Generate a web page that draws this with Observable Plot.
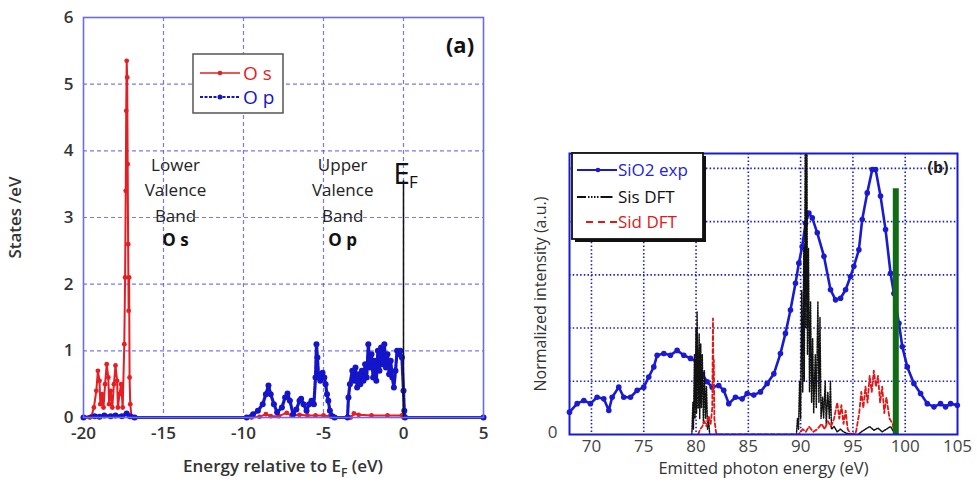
<!DOCTYPE html>
<html><head><meta charset="utf-8">
<script src="https://cdn.jsdelivr.net/npm/d3@7"></script>
<script src="https://cdn.jsdelivr.net/npm/@observablehq/plot@0.6"></script>
<style>
body{margin:0;background:#fff;}
#wrap{position:relative;width:977px;height:483px;overflow:hidden;font-family:"Open Sans",sans-serif;background:#fff;}
#wrap .pa{position:absolute;left:0;top:0;}
#wrap .pb{position:absolute;left:490px;top:0;}
#wrap .ov{position:absolute;left:0;top:0;pointer-events:none;}
</style></head><body><div id="wrap"></div>
<script>
// ---------- Panel (a): O s / O p partial DOS ----------
const osEnergy = [-20,-19.6,-19.5,-19.35,-19.2,-19.1,-19.0,-18.95,-18.85,-18.75,-18.65,-18.55,-18.45,-18.4,-18.3,-18.2,-18.1,-18.0,-17.9,-17.85,-17.75,-17.65,-17.55,-17.45,-17.4,-17.36,-17.33,-17.3,-17.27,-17.24,-17.21,-17.18,-17.15,-17.12,-17.08,-17.0,-16.9,-9.5,-9.0,-8.6,-8.3,-7.8,-7.3,-7.0,-6.5,-6.0,-5.5,-5.0,-4.6,-4.3,-3.3,-3.1,-2.8,-2.0,-1.0,-0.1,0,5];
const osStates = [0,0,0.02,0.15,0.4,0.7,0.55,0.2,0.35,0.15,0.5,0.8,0.6,0.2,0.4,0.15,0.5,0.78,0.55,0.15,0.35,0.5,0.15,1.1,2.1,3.4,4.6,5.35,5.1,3.8,2.6,1.6,2.1,0.6,0.2,0.02,0,0,0.01,0.05,0.02,0.02,0.07,0.03,0.04,0.03,0.03,0.03,0.02,0,0,0.06,0.04,0.03,0.03,0.03,0,0];
const opEnergy = [-20,-19.3,-19.0,-18.7,-18.3,-18.0,-17.6,-17.3,-17.1,-16.8,-9.8,-9.4,-9.1,-8.8,-8.6,-8.44,-8.3,-8.1,-7.9,-7.6,-7.4,-7.25,-7.1,-6.9,-6.7,-6.5,-6.4,-6.25,-6.06,-5.9,-5.75,-5.6,-5.5,-5.44,-5.38,-5.3,-5.2,-5.06,-4.95,-4.87,-4.78,-4.7,-4.6,-4.45,-4.3,-3.5,-3.44,-3.35,-3.2,-3.1,-3.0,-2.9,-2.8,-2.7,-2.6,-2.5,-2.4,-2.3,-2.2,-2.1,-2.0,-1.9,-1.8,-1.7,-1.6,-1.5,-1.4,-1.3,-1.2,-1.1,-1.0,-0.9,-0.8,-0.7,-0.6,-0.5,-0.4,-0.3,-0.2,-0.1,0.0,0.05,0.1,5];
const opStates = [0,0.02,0.01,0.03,0.02,0.03,0.02,0.06,0.02,0,0,0.05,0.1,0.2,0.35,0.48,0.35,0.2,0.08,0.15,0.3,0.36,0.25,0.05,0.12,0.25,0.28,0.2,0.1,0.2,0.25,0.2,0.6,1.1,0.9,0.6,0.55,0.67,0.6,0.5,0.35,0.25,0.1,0.02,0,0,0.3,0.5,0.7,0.55,0.75,0.45,0.65,0.5,0.7,0.55,0.8,0.6,1.1,0.75,0.95,0.6,0.85,0.55,1.0,0.7,1.05,0.8,1.1,0.75,0.95,0.65,0.85,0.6,0.45,0.7,1.0,0.95,1.0,0.9,0.4,0.1,0,0];
const aTicksX = [-20,-15,-10,-5,0,5];
const aTicksY = [0,1,2,3,4,5,6];
const aGridX = [-15,-10,-5,0];
const aGridY = [1,2,3,4,5];
const fermiEnergy = [0];
const fermiTop = 3.55;
const bandNotes = [
  {x: -14.25, y: 3.98, text: "Lower\nValence\nBand", bold: "O s"},
  {x: -3.8, y: 3.98, text: "Upper\nValence\nBand", bold: "O p"}
];

// ---------- Panel (b): SiO2 emission vs DFT ----------
const expEnergy = [67.9,68.63,69.27,69.9,70.54,71.18,71.66,71.98,72.61,73.09,73.73,74.37,75.0,75.48,75.96,76.28,76.92,77.55,78.19,78.83,79.47,80.1,80.58,81.06,81.54,82.17,82.65,83.13,83.77,84.41,84.89,85.52,86.16,86.8,87.44,88.07,88.55,89.03,89.51,89.83,90.15,90.47,90.79,91.11,91.59,92.23,92.86,93.34,93.82,94.3,94.77,95.09,95.57,95.89,96.37,96.85,97.17,97.64,98.12,98.6,98.92,99.4,99.72,100.2,100.83,101.47,102.11,102.75,103.38,103.86,104.34,104.98];
const expIntensity = [0.42,0.58,0.64,0.58,0.70,0.67,0.45,0.70,0.89,0.70,0.70,0.83,0.89,1.08,1.27,1.49,1.52,1.49,1.58,1.49,1.43,1.36,1.14,0.99,0.89,0.92,0.83,0.58,0.70,0.67,0.77,0.74,0.80,0.96,1.14,1.52,1.90,2.34,2.84,3.22,3.53,3.97,4.16,4.07,3.79,3.35,2.72,2.53,2.56,2.72,2.97,3.16,3.47,4.04,4.54,4.98,4.98,4.48,3.85,3.03,2.65,2.09,1.65,1.27,0.96,0.77,0.58,0.52,0.58,0.52,0.58,0.55];
const sisEnergy = [79.6,79.7,79.75,79.85,79.9,80.0,80.05,80.1,80.2,80.3,80.35,80.45,80.5,80.6,80.7,80.8,80.9,81.0,81.1,81.2,81.3,89.6,89.7,89.8,89.9,90.0,90.1,90.2,90.3,90.35,90.45,90.5,90.6,90.65,90.75,90.85,90.95,91.05,91.15,91.25,91.4,91.5,91.65,91.75,91.85,91.95,92.1,92.2,92.35,92.45,92.6,92.75,92.85,92.95,93.2,93.5,93.8,94.1,94.4,95.5,95.8,96.2,96.6,97.0,97.4,97.8,98.2,98.6,98.9,99.0];
const sisIntensity = [0,0.6,0.1,1.5,0.3,2.0,0.4,2.3,0.5,1.9,0.3,1.7,0.5,1.5,0.2,1.2,0.3,0.9,0.1,0.3,0,0,0.3,0.1,1.0,0.3,2.7,0.8,3.5,1.0,6,2.0,6,1.5,3.5,0.8,2.5,0.6,1.8,0.4,1.5,0.5,2.5,0.6,2.2,0.3,0.7,0.3,1.0,0.2,0.8,0.3,1.0,0.1,0.15,0.05,0.1,0.05,0.02,0,0.05,0.1,0.15,0.08,0.12,0.05,0.1,0.15,0.05,0];
const sidEnergy = [80.2,80.4,80.6,80.8,81.0,81.2,81.4,81.55,81.62,81.66,81.7,81.75,81.9,82.0,89.8,90.2,90.5,90.8,91.2,91.6,92.0,92.3,92.6,92.9,93.2,93.5,93.7,93.9,94.1,94.3,94.5,94.8,95.3,95.6,95.8,96.0,96.2,96.4,96.6,96.8,97.0,97.2,97.4,97.6,97.8,98.0,98.2,98.5,98.8,99.0];
const sidIntensity = [0,0.1,0.15,0.25,0.15,0.35,0.2,0.5,2.18,1.0,1.4,0.3,0.05,0,0,0.1,0.05,0.15,0.05,0.1,0.2,0.1,0.25,0.15,0.3,0.6,0.3,0.55,0.2,0.45,0.1,0,0.05,0.4,0.8,0.5,0.9,0.6,1.1,0.8,1.2,0.9,1.1,0.6,0.9,0.4,0.7,0.3,0.2,0];
const edgeEnergy = [99.1];
const edgeTop = [4.62];
const bTicksX = [70,75,80,85,90,95,100,105];
const bTicksY = [0];
const bGridX = [70,75,80,85,90,95,100];
const bGridY = [1,2,3,4,5];

const zip = (xs, ys) => xs.map((x, i) => ({x, y: ys[i]}));
const osData = zip(osEnergy, osStates);
const opData = zip(opEnergy, opStates);
const expData = zip(expEnergy, expIntensity);
const sisData = zip(sisEnergy, sisIntensity);
const sidData = zip(sidEnergy, sidIntensity);

const RED = "#e41e22", BLUE = "#1414c8", TXT = "#333";
const FONT = "Open Sans, sans-serif";
const plain = d => String(d);

const plotA = Plot.plot({
  width: 490, height: 483,
  marginLeft: 83, marginRight: 7, marginTop: 17, marginBottom: 66,
  x: {domain: [-20, 5]},
  y: {domain: [0, 6]},
  style: {fontFamily: FONT, background: "transparent", overflow: "visible"},
  marks: [
    Plot.gridX(aGridX, {stroke: "#4a4aff", strokeOpacity: 0.75, strokeDasharray: "4,3", strokeWidth: 1.2}),
    Plot.gridY(aGridY, {stroke: "#4a4aff", strokeOpacity: 0.75, strokeDasharray: "4,3", strokeWidth: 1.2}),
    Plot.axisX(aTicksX, {tickSize: 0, tickPadding: 9, fontSize: 17, fontWeight: 600, fill: TXT, label: null, tickFormat: plain}),
    Plot.axisY(aTicksY, {tickSize: 0, tickPadding: 10, fontSize: 17, fontWeight: 600, fill: TXT, label: null, tickFormat: plain}),
    Plot.text(["States /eV"], {frameAnchor: "left", dx: -68, rotate: -90, textAnchor: "middle", fontSize: 17, fontWeight: 600, fill: TXT}),
    Plot.line(osData, {x: "x", y: "y", stroke: RED, strokeWidth: 2}),
    Plot.dot(osData, {x: "x", y: "y", r: 2.4, fill: RED}),
    Plot.line(opData, {x: "x", y: "y", stroke: BLUE, strokeWidth: 3.2, strokeDasharray: "4,1.2"}),
    Plot.dot(opData, {x: "x", y: "y", r: 3, fill: BLUE}),
    Plot.ruleX(fermiEnergy, {x: d => d, y1: 0, y2: fermiTop, stroke: "#111", strokeWidth: 1.5}),
    Plot.text(fermiEnergy, {x: d => d, y: fermiTop, text: () => "E", fontSize: 30, fill: "#111", lineAnchor: "bottom", dx: -2, dy: 3}),
    Plot.text(fermiEnergy, {x: d => d, y: fermiTop, text: () => "F", fontSize: 17, fill: "#111", lineAnchor: "middle", dx: 10, dy: 2}),
    Plot.text(bandNotes, {x: "x", y: "y", text: "text", fontSize: 17, fontWeight: 500, fill: "#222", lineAnchor: "top", lineHeight: 1.52}),
    Plot.text(bandNotes, {x: "x", y: "y", text: "bold", fontSize: 17, fontWeight: 700, fill: "#111", lineAnchor: "top", dy: 82}),
    Plot.frame({stroke: "#6a6af0", strokeWidth: 1.6})
  ]
});
plotA.classList.add("pa");

const plotB = Plot.plot({
  width: 487, height: 483,
  marginLeft: 79, marginRight: 20, marginTop: 153, marginBottom: 49,
  x: {domain: [67.9, 105]},
  y: {domain: [0, 5.28]},
  style: {fontFamily: FONT, background: "transparent", overflow: "visible"},
  marks: [
    Plot.gridX(bGridX, {stroke: "#1c1cd0", strokeOpacity: 1, strokeDasharray: "1.5,2.2", strokeWidth: 1.6}),
    Plot.gridY(bGridY, {stroke: "#1c1cd0", strokeOpacity: 1, strokeDasharray: "1.5,2.2", strokeWidth: 1.6}),
    Plot.axisX(bTicksX, {tickSize: 0, tickPadding: 5, fontSize: 17, fontWeight: 500, fill: "#444", label: null, tickFormat: plain}),
    Plot.axisY(bTicksY, {tickSize: 0, tickPadding: 12, fontSize: 17, fontWeight: 500, fill: "#444", label: null, dy: -2, tickFormat: plain}),
    Plot.text(["Normalized intensity (a.u.)"], {frameAnchor: "left", dx: -29, rotate: -90, textAnchor: "middle", fontSize: 16, fontWeight: 500, fill: "#333"}),
    Plot.text(["Emitted photon energy (eV)"], {frameAnchor: "bottom", dy: 39, fontSize: 16.5, fontWeight: 500, fill: "#333"}),
    Plot.line(expData, {x: "x", y: "y", stroke: "#1a1ad2", strokeWidth: 2.6}),
    Plot.dot(expData, {x: "x", y: "y", r: 2.8, fill: "#1a1ad2"}),
    Plot.line(sisData, {x: "x", y: "y", stroke: "#111", strokeWidth: 1.5, strokeDasharray: "1.3,1.3", clip: true}),
    Plot.line(sidData, {x: "x", y: "y", stroke: "#e01818", strokeWidth: 1.8, strokeDasharray: "4,2.5", clip: true}),
    Plot.ruleX(edgeEnergy, {x: d => d, y1: 0, y2: (d, i) => edgeTop[i], stroke: "#136a16", strokeWidth: 6}),
    Plot.frame({stroke: "#1a1ad6", strokeWidth: 2})
  ]
});
plotB.classList.add("pb");

const wrap = document.getElementById("wrap");
wrap.appendChild(plotA);
wrap.appendChild(plotB);

// ---------- overlay: legends, panel tags, x-label with subscript ----------
const ov = d3.select(wrap).append("svg").attr("class", "ov")
  .attr("width", 977).attr("height", 483).attr("font-family", FONT);

// panel (a) legend
const la = ov.append("g");
la.append("rect").attr("x", 193).attr("y", 54).attr("width", 90).attr("height", 59)
  .attr("fill", "#fff").attr("stroke", "#555").attr("stroke-width", 1.5);
la.append("line").attr("x1", 200).attr("x2", 240).attr("y1", 73).attr("y2", 73).attr("stroke", RED).attr("stroke-width", 1.6);
la.append("circle").attr("cx", 220).attr("cy", 73).attr("r", 2.3).attr("fill", RED);
la.append("text").attr("x", 243).attr("y", 73).attr("dy", "0.35em").attr("font-size", 19).attr("fill", RED).text("O s");
la.append("line").attr("x1", 200).attr("x2", 240).attr("y1", 97).attr("y2", 97).attr("stroke", BLUE).attr("stroke-width", 2).attr("stroke-dasharray", "3,1.5");
la.append("circle").attr("cx", 220).attr("cy", 97).attr("r", 2.5).attr("fill", BLUE);
la.append("text").attr("x", 243).attr("y", 97).attr("dy", "0.35em").attr("font-size", 19).attr("fill", BLUE).text("O p");

ov.append("text").attr("x", 460).attr("y", 45).attr("dy", "0.35em").attr("text-anchor", "middle")
  .attr("font-size", 22).attr("font-weight", 700).attr("fill", "#111").text("(a)");

const xl = ov.append("text").attr("x", 283).attr("y", 466).attr("dy", "0.35em").attr("text-anchor", "middle")
  .attr("font-size", 17).attr("font-weight", 600).attr("fill", TXT);
xl.append("tspan").text("Energy relative to E");
xl.append("tspan").attr("font-size", 12).attr("dy", 5).text("F");
xl.append("tspan").attr("dy", -5).text(" (eV)");

// panel (b) legend
const lb = ov.append("g");
lb.append("rect").attr("x", 575).attr("y", 156).attr("width", 131).attr("height", 86).attr("fill", "#111");
lb.append("rect").attr("x", 572).attr("y", 153).attr("width", 131).attr("height", 86)
  .attr("fill", "#fff").attr("stroke", "#111").attr("stroke-width", 1.8);
lb.append("line").attr("x1", 577).attr("x2", 617).attr("y1", 170).attr("y2", 170).attr("stroke", "#1a1ad2").attr("stroke-width", 1.8);
lb.append("circle").attr("cx", 598).attr("cy", 170).attr("r", 2.3).attr("fill", "#1a1ad2");
lb.append("text").attr("x", 618).attr("y", 170).attr("dy", "0.35em").attr("font-size", 17).attr("fill", "#2323d8").text("SiO2 exp");
lb.append("line").attr("x1", 577).attr("x2", 617).attr("y1", 197).attr("y2", 197).attr("stroke", "#111").attr("stroke-width", 1.8).attr("stroke-dasharray", "9,2,1.5,1.5,1.5,1.5,1.5,1.5,1.5,2,12");
lb.append("text").attr("x", 618).attr("y", 197).attr("dy", "0.35em").attr("font-size", 17).attr("fill", "#111").text("Sis DFT");
lb.append("line").attr("x1", 586).attr("x2", 617).attr("y1", 222).attr("y2", 222).attr("stroke", "#e01818").attr("stroke-width", 1.8).attr("stroke-dasharray", "7,5");
lb.append("text").attr("x", 618).attr("y", 222).attr("dy", "0.35em").attr("font-size", 17).attr("fill", "#e01818").text("Sid DFT");

ov.append("text").attr("x", 938).attr("y", 167).attr("dy", "0.35em").attr("text-anchor", "middle")
  .attr("font-size", 16).attr("font-weight", 700).attr("fill", "#222").text("(b)");
</script>
</body></html>
